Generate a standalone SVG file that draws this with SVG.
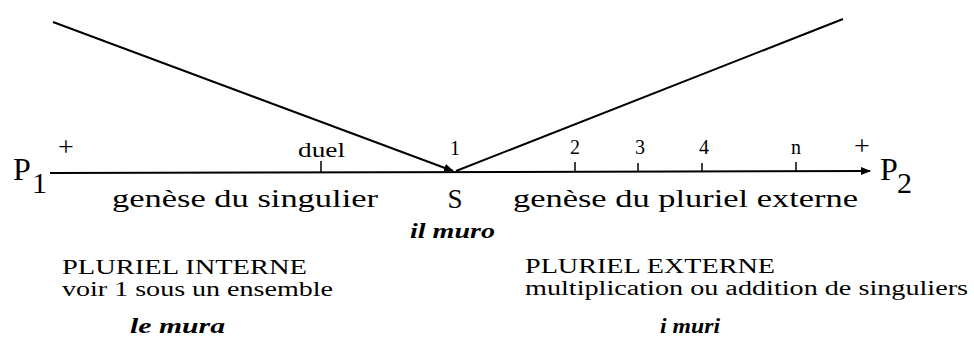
<svg xmlns="http://www.w3.org/2000/svg" width="974" height="345" viewBox="0 0 974 345">
<style>
text{font-family:"Liberation Serif","Times New Roman",serif;fill:#000}
.ax{font-size:20px}
.big{font-size:26px}
.ex{font-size:21px;font-style:italic;font-weight:bold}
.lab{font-size:20px}
.pl{font-size:28px}
.p{font-size:32px}
.sub{font-size:30px}
.ln{stroke:#000;stroke-width:2;fill:none}
.tk{stroke:#000;stroke-width:1.5}
</style>
<defs>
<marker id="ah" markerWidth="10" markerHeight="8" refX="9" refY="4" orient="auto" markerUnits="userSpaceOnUse">
<path d="M0,0 L10,4 L0,8 z" fill="#000"/>
</marker>
</defs>
<g id="connectors">
<line class="ln" x1="50" y1="173" x2="870" y2="171" marker-end="url(#ah)"/>
<line class="ln" x1="53" y1="22" x2="453" y2="171" marker-end="url(#ah)"/>
<line class="ln" x1="456" y1="171" x2="843" y2="19"/>
<line class="tk" x1="321" y1="161" x2="321" y2="172"/>
<line class="tk" x1="575" y1="162" x2="575" y2="172"/>
<line class="tk" x1="638" y1="163" x2="638" y2="172"/>
<line class="tk" x1="702" y1="163" x2="702" y2="172"/>
<line class="tk" x1="796" y1="162" x2="796" y2="172"/>
</g>
<g id="P1">
<text class="p" x="13" y="180">P</text>
<text class="sub" x="32" y="193">1</text>
</g>
<g id="P2">
<text class="p" x="880" y="180">P</text>
<text class="sub" x="897" y="193">2</text>
</g>
<g id="scale">
<text class="pl" x="66" y="156" text-anchor="middle">+</text>
<text class="pl" x="862" y="155" text-anchor="middle">+</text>
<text class="ax" x="298" y="157" textLength="47" lengthAdjust="spacingAndGlyphs">duel</text>
<text class="ax" x="455" y="155" text-anchor="middle">1</text>
<text class="ax" x="575" y="154" text-anchor="middle">2</text>
<text class="ax" x="640" y="154" text-anchor="middle">3</text>
<text class="ax" x="704" y="154" text-anchor="middle">4</text>
<text class="ax" x="796" y="154" text-anchor="middle">n</text>
</g>
<g id="S">
<text class="big" x="455" y="208" text-anchor="middle" style="font-size:27px">S</text>
<text class="ex" x="410" y="238" textLength="85" lengthAdjust="spacingAndGlyphs">il muro</text>
</g>
<g id="singulier">
<text class="big" x="112" y="207" textLength="266" lengthAdjust="spacingAndGlyphs">genèse du singulier</text>
</g>
<g id="pluriel">
<text class="big" x="513" y="207" textLength="345" lengthAdjust="spacingAndGlyphs">genèse du pluriel externe</text>
</g>
<g id="interne">
<text class="lab" x="62" y="274" textLength="245" lengthAdjust="spacingAndGlyphs">PLURIEL INTERNE</text>
<text class="lab" x="62" y="296" textLength="271" lengthAdjust="spacingAndGlyphs">voir 1 sous un ensemble</text>
<text class="ex" x="130" y="333" textLength="95" lengthAdjust="spacingAndGlyphs">le mura</text>
</g>
<g id="externe">
<text class="lab" x="525" y="273" textLength="250" lengthAdjust="spacingAndGlyphs">PLURIEL EXTERNE</text>
<text class="lab" x="525" y="295" textLength="443" lengthAdjust="spacingAndGlyphs">multiplication ou addition de singuliers</text>
<text class="ex" x="660" y="333" textLength="60" lengthAdjust="spacingAndGlyphs">i muri</text>
</g>
</svg>
